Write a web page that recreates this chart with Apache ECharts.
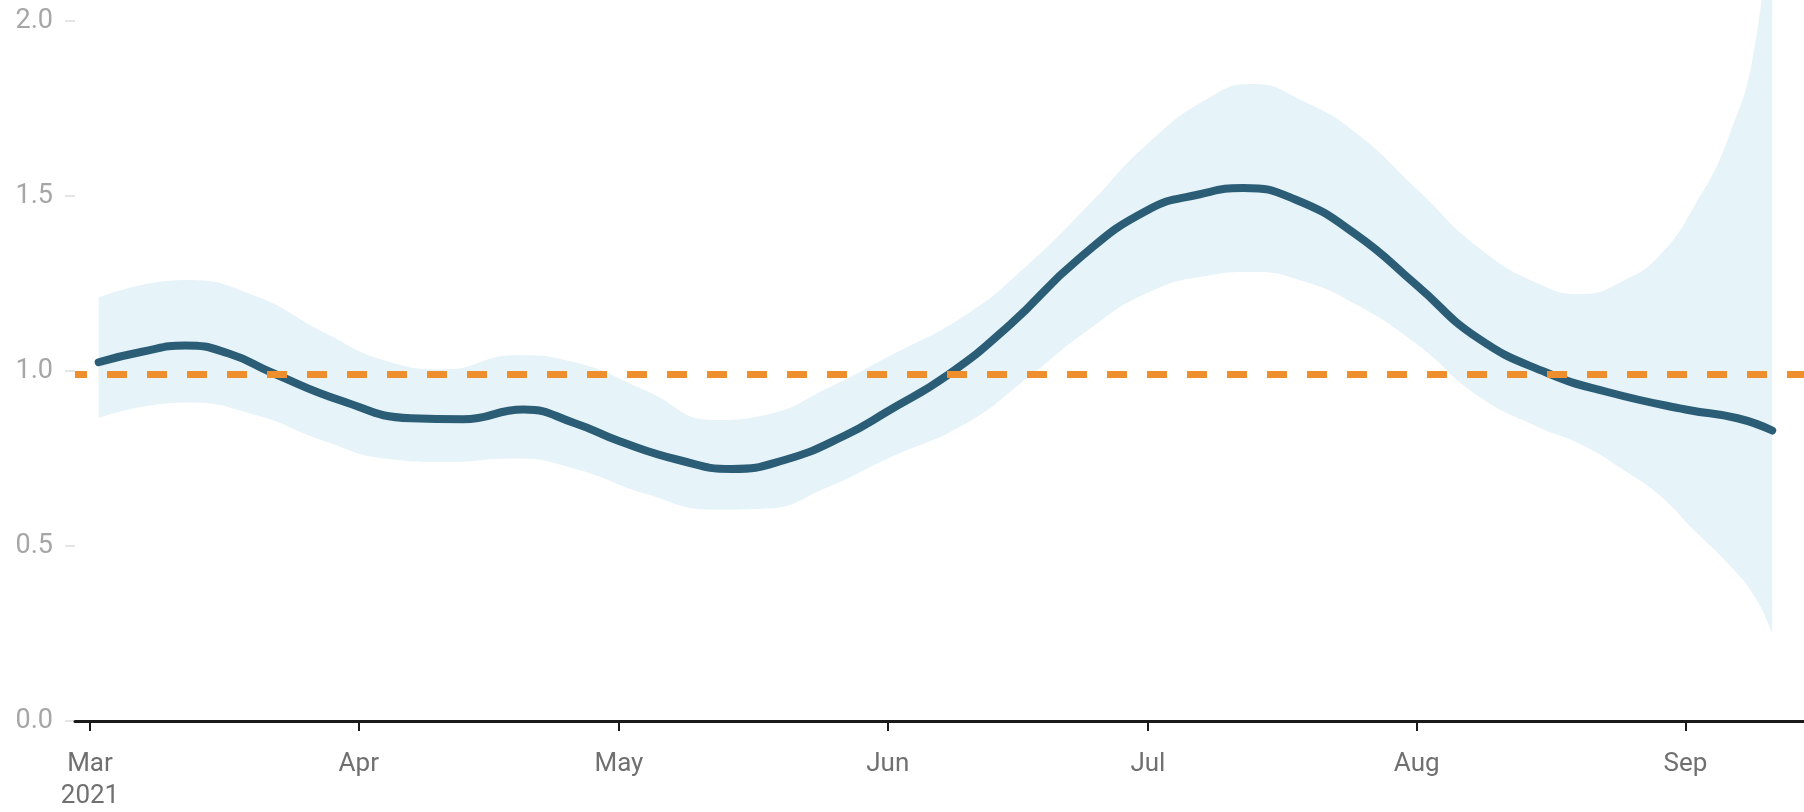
<!DOCTYPE html>
<html>
<head>
<meta charset="utf-8">
<script src="https://cdn.jsdelivr.net/npm/echarts@6/dist/echarts.min.js"></script>
<style>
  html, body { margin: 0; padding: 0; background: #fff; }
  #chart { width: 1804px; height: 812px; }
</style>
</head>
<body>
<div id="chart"></div>
<script>
// central estimate
const lineDates = ['2021-03-02','2021-03-07','2021-03-12','2021-03-17','2021-03-22','2021-03-30',
  '2021-04-07','2021-04-13','2021-04-20','2021-04-26','2021-05-01','2021-05-08','2021-05-14',
  '2021-05-20','2021-05-27','2021-06-01','2021-06-08','2021-06-15','2021-06-23','2021-07-01',
  '2021-07-07','2021-07-12','2021-07-18','2021-07-25','2021-08-01','2021-08-08','2021-08-16',
  '2021-08-23','2021-09-01','2021-09-07','2021-09-11'];
const lineValues = [1.025,1.055,1.073,1.05,0.995,0.915,
  0.865,0.862,0.89,0.85,0.80,0.745,0.72,
  0.745,0.815,0.885,0.99,1.13,1.32,1.46,
  1.505,1.523,1.49,1.39,1.245,1.095,0.995,
  0.94,0.89,0.865,0.83];

// uncertainty band
const bandDates = ['2021-03-02','2021-03-12','2021-03-20','2021-03-28','2021-04-04','2021-04-11',
  '2021-04-19','2021-04-26','2021-05-04','2021-05-12','2021-05-18','2021-05-25','2021-06-01',
  '2021-06-10','2021-06-17','2021-06-24','2021-07-01','2021-07-08','2021-07-13','2021-07-19',
  '2021-07-25','2021-08-01','2021-08-08','2021-08-15','2021-08-20','2021-08-25','2021-08-29',
  '2021-09-02','2021-09-06','2021-09-09','2021-09-11'];
const bandLow = [0.866,0.91,0.875,0.80,0.75,0.74,
  0.75,0.72,0.65,0.604,0.607,0.667,0.75,
  0.85,0.978,1.115,1.224,1.273,1.283,1.256,
  1.19,1.077,0.93,0.84,0.79,0.715,0.645,
  0.545,0.447,0.355,0.25];
const bandHigh = [1.21,1.26,1.215,1.11,1.03,1.005,
  1.045,1.024,0.945,0.86,0.875,0.95,1.04,
  1.16,1.30,1.47,1.65,1.78,1.82,1.77,
  1.68,1.52,1.355,1.25,1.22,1.26,1.33,
  1.47,1.67,1.93,2.4];

const refLevel = 0.99;
const monthTicks = ['2021-03-01','2021-04-01','2021-05-01','2021-06-01','2021-07-01','2021-08-01','2021-09-01'];
const monthNames = ['Jan','Feb','Mar','Apr','May','Jun','Jul','Aug','Sep','Oct','Nov','Dec'];

const ts = s => { const p = s.split('-'); return new Date(+p[0], +p[1] - 1, +p[2]).getTime(); };
const xMin = new Date(2021, 1, 27, 6, 30).getTime();
const xMax = new Date(2021, 8, 14, 16, 0).getTime();
const tickVals = monthTicks.map(ts);

const chart = echarts.init(document.getElementById('chart'));
chart.setOption({
  animation: false,
  grid: { left: 75, right: 0, top: 21, bottom: 89, containLabel: false },
  xAxis: {
    type: 'value',
    min: xMin,
    max: xMax,
    z: 10,
    axisLine: { show: true, lineStyle: { color: '#1a1a1a', width: 3 } },
    axisTick: { show: true, length: 10, lineStyle: { color: '#1a1a1a', width: 2 }, customValues: tickVals },
    splitLine: { show: false },
    axisLabel: {
      customValues: tickVals,
      color: '#707070',
      fontFamily: 'Roboto',
      fontSize: 26,
      lineHeight: 32,
      margin: 27,
      formatter: v => {
        const d = new Date(v);
        const m = monthNames[d.getMonth()];
        return d.getMonth() === 2 ? m + '\n2021' : m;
      }
    }
  },
  yAxis: {
    type: 'value',
    min: 0,
    max: 2,
    interval: 0.5,
    axisLine: { show: false },
    axisTick: { show: true, length: 10, lineStyle: { color: '#ddd', width: 1.5 } },
    splitLine: { show: false },
    axisLabel: {
      color: '#a6a6a6',
      fontFamily: 'Roboto',
      fontSize: 27,
      margin: 22,
      formatter: v => v.toFixed(1)
    }
  },
  series: [
    {
      // value column first so the stack runs on y, not on the date
      name: 'lower',
      type: 'line',
      stack: 'band',
      encode: { x: 1, y: 0 },
      smooth: 0.5,
      clip: false,
      symbol: 'none',
      lineStyle: { width: 0, opacity: 0 },
      data: bandDates.map((d, i) => [bandLow[i], ts(d)]),
      z: 1
    },
    {
      name: 'band',
      type: 'line',
      stack: 'band',
      encode: { x: 1, y: 0 },
      smooth: 0.5,
      clip: false,
      symbol: 'none',
      lineStyle: { width: 0, opacity: 0 },
      areaStyle: { color: '#e6f3f8', opacity: 1 },
      data: bandDates.map((d, i) => [bandHigh[i] - bandLow[i], ts(d)]),
      z: 1
    },
    {
      name: 'R',
      type: 'line',
      smooth: 0.5,
      symbol: 'none',
      lineStyle: { color: '#2b5d76', width: 8, cap: 'round', join: 'round' },
      data: lineDates.map((d, i) => [ts(d), lineValues[i]]),
      z: 3
    },
    {
      name: 'ref',
      type: 'line',
      symbol: 'none',
      lineStyle: { color: '#ef8e2d', width: 7, type: [20, 20], dashOffset: 8 },
      data: [[xMin, refLevel], [xMax, refLevel]],
      z: 4
    }
  ]
});
</script>
</body>
</html>
